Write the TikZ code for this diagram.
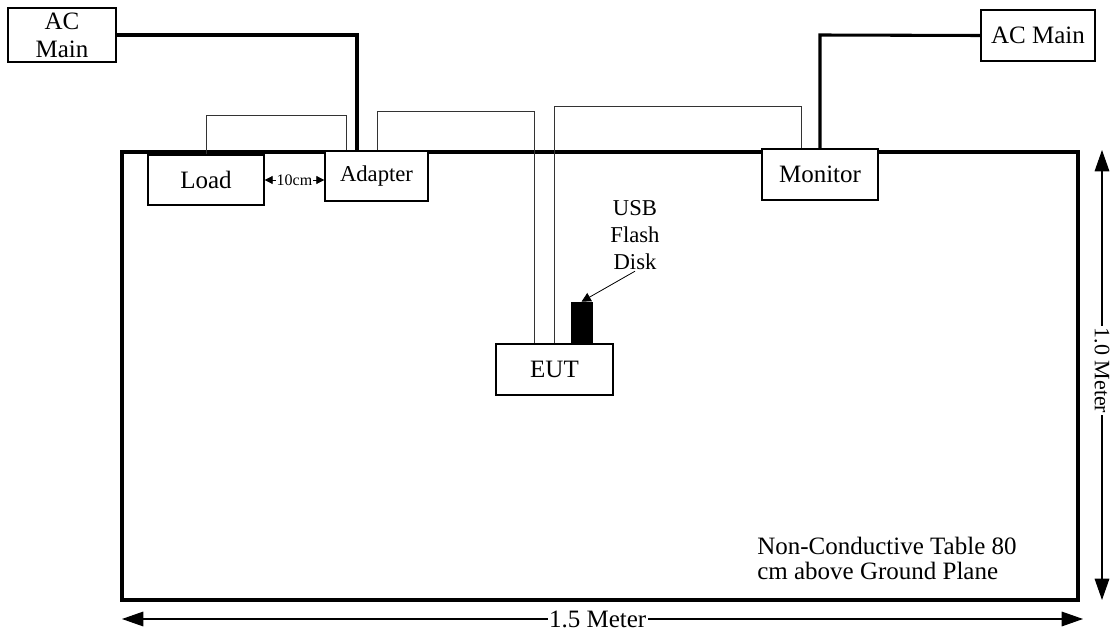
\documentclass[tikz,border=0pt]{standalone}
\usepackage{fontspec}
\setmainfont{Liberation Serif}
\usetikzlibrary{arrows.meta}
\begin{document}
\begin{tikzpicture}[x=0.75pt,y=-0.75pt,
  box/.style={draw, line width=1pt, fill=white, inner sep=0pt, align=center,
    font=\fontsize{18.75}{21}\selectfont},
  sz/.style 2 args={minimum width=#1*0.75pt, minimum height=#2*0.75pt},
  power/.style={line width=2.3pt},
  cable/.style={line width=0.7pt, draw=black!80},
  tablebox/.style={line width=2.3pt},
  dim/.style={line width=0.8pt, {Triangle[length=16pt,width=11pt]}-{Triangle[length=16pt,width=11pt]}},
  lbl/.style={inner sep=1pt, fill=white},
]
\useasboundingbox (0,0) rectangle (1115,638);

% table
\coordinate (tnw) at (122,152);
\coordinate (tse) at (1078,600);
\draw[tablebox] (tnw) rectangle (tse);

% boxes
\node[box, sz={108}{54}, font=\fontsize{18.75}{21}\selectfont] (acl) at (62,35) {AC\\Main};
\node[box, sz={116}{50}] (load) at (206,180) {Load};
\node[box, sz={103}{50}, font=\fontsize{17}{20}\selectfont] (adapter) at (376.5,176) {Adapter};
\node[box, sz={117}{51}] (eut) at (554.5,369.5) {EUT};
\node[box, sz={116}{51}] (monitor) at (820,174.5) {Monitor};
\node[box, sz={114}{51}] (acr) at (1038,35.5) {AC Main};

% USB flash disk
\node[fill=black, draw=black, inner sep=0pt, sz={21}{42}] (usb) at (581.5,323) {};
\node[align=center, inner sep=1pt, font=\fontsize{17}{20.25}\selectfont] (usbtxt) at (635,235) {USB\\Flash\\Disk};
\draw[line width=0.6pt, -{Triangle[length=7pt,width=7pt]}] (usbtxt.south) -- (usb.north);

% power cords
\draw[power] (acl.east) -- (357,35) -- (357,0 |- adapter.north);
\draw[power] (820,0 |- monitor.north) -- (820,35) -- (acr.west);

% signal cables
\draw[cable] (206,0 |- load.north) -- (206,115) -- (346,115) -- (346,0 |- adapter.north);
\draw[cable] (377,0 |- adapter.north) -- (377,111) -- (534,111) -- (534,0 |- eut.north);
\draw[cable] (554,0 |- eut.north) -- (554,106) -- (801,106) -- (801,0 |- monitor.north);

% 10cm spacing
\draw[line width=0.6pt, {Triangle[length=6pt,width=6pt]}-{Triangle[length=6pt,width=6pt]}]
  (load.east) -- node[lbl, inner sep=0.5pt, font=\fontsize{12}{14}\selectfont] {10cm} (load.east -| adapter.west);

% dimensions
\coordinate (vt) at (1102,150);
\coordinate (vb) at (1102,600);
\draw[dim] (vt) -- node[lbl, pos=0.49, rotate=-90, font=\fontsize{16.5}{19}\selectfont] {1.0 Meter} (vb);
\coordinate (hl) at (122,619);
\coordinate (hr) at (1083,619);
\draw[dim] (hl) -- node[lbl, pos=0.495, font=\fontsize{18.75}{21}\selectfont] {1.5 Meter} (hr);

% caption
\node[anchor=north west, align=left, inner sep=0pt, font=\fontsize{18.75}{18.75}\selectfont] (cap) at (757,537)
  {Non-Conductive Table 80\\cm above Ground Plane};
\end{tikzpicture}
\end{document}
